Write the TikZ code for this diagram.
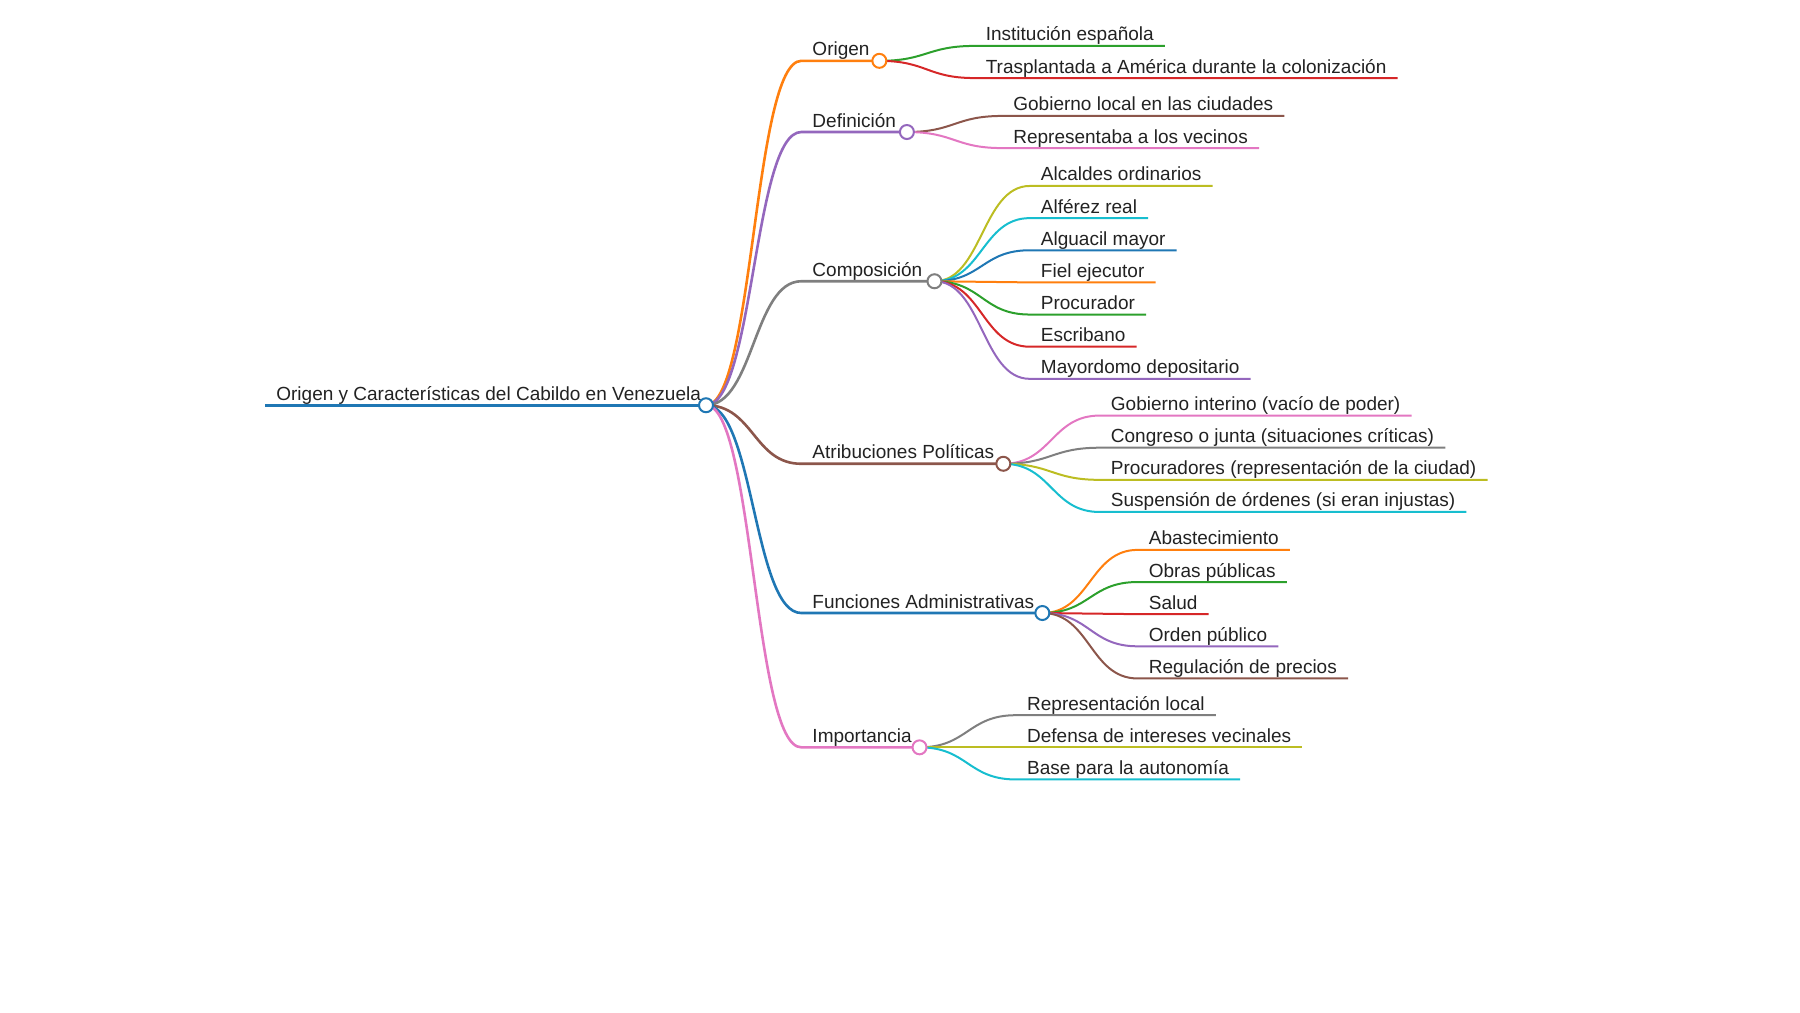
\documentclass[tikz,border=0pt]{standalone}
\usepackage{fontspec}
\setmainfont{Liberation Sans}
\usetikzlibrary{calc}
\definecolor{cBlue}{HTML}{1F77B4}
\definecolor{cOrange}{HTML}{FF7F0E}
\definecolor{cGreen}{HTML}{2CA02C}
\definecolor{cRed}{HTML}{D62728}
\definecolor{cPurple}{HTML}{9467BD}
\definecolor{cBrown}{HTML}{8C564B}
\definecolor{cPink}{HTML}{E377C2}
\definecolor{cGray}{HTML}{7F7F7F}
\definecolor{cOlive}{HTML}{BCBD22}
\definecolor{cCyan}{HTML}{17BECF}
\definecolor{txtcol}{HTML}{222222}
\tikzset{
  lbl/.style={font=\fontsize{19}{22}\selectfont, text=txtcol, inner xsep=11pt, inner ysep=4.8pt, text depth=0pt, anchor=south west},
  dot/.style={circle, draw=#1, fill=white, line width=2pt, minimum size=14pt, inner sep=0pt},
  rootline/.style={line width=3pt, cBlue},
  branchline/.style={line width=2.6pt},
  kidline/.style={line width=2pt},
}
\newcommand\mmlink[4]{%
  \path (#2) -- (#3) coordinate[pos=.5] (lkm);
  \draw[#1] (#2) .. controls (lkm |- #2) and (lkm |- #3) .. (#3) -- (#4);}
\begin{document}
\begin{tikzpicture}[x=1.148pt,y=-1.148pt]
\useasboundingbox (0,0) rectangle (1568,882);
% root
\node[lbl] (rootT) at (231,353) {Origen y Características del Cabildo en Venezuela};
\draw[rootline] (rootT.south west) -- (609,353);
% branches text
\node[lbl] (bO) at (698,53) {Origen};
\node[lbl] (bD) at (698,115) {Definición};
\node[lbl] (bC) at (698,245) {Composición};
\node[lbl] (bA) at (698,404) {Atribuciones Políticas};
\node[lbl] (bF) at (698,534) {Funciones Administrativas};
\node[lbl] (bI) at (698,651) {Importancia};
% children text
\node[lbl] (o1) at (849,40) {Institución española};
\node[lbl] (o2) at (849,68) {Trasplantada a América durante la colonización};
\node[lbl] (d1) at (873,101) {Gobierno local en las ciudades};
\node[lbl] (d2) at (873,129) {Representaba a los vecinos};
\node[lbl] (c1) at (897,162) {Alcaldes ordinarios};
\node[lbl] (c2) at (897,190) {Alférez real};
\node[lbl] (c3) at (897,218) {Alguacil mayor};
\node[lbl] (c4) at (897,246) {Fiel ejecutor};
\node[lbl] (c5) at (897,274) {Procurador};
\node[lbl] (c6) at (897,302) {Escribano};
\node[lbl] (c7) at (897,330) {Mayordomo depositario};
\node[lbl] (a1) at (958,362) {Gobierno interino (vacío de poder)};
\node[lbl] (a2) at (958,390) {Congreso o junta (situaciones críticas)};
\node[lbl] (a3) at (958,418) {Procuradores (representación de la ciudad)};
\node[lbl] (a4) at (958,446) {Suspensión de órdenes (si eran injustas)};
\node[lbl] (f1) at (991,479) {Abastecimiento};
\node[lbl] (f2) at (991,507) {Obras públicas};
\node[lbl] (f3) at (991,535) {Salud};
\node[lbl] (f4) at (991,563) {Orden público};
\node[lbl] (f5) at (991,591) {Regulación de precios};
\node[lbl] (i1) at (885,623) {Representación local};
\node[lbl] (i2) at (885,651) {Defensa de intereses vecinales};
\node[lbl] (i3) at (885,679) {Base para la autonomía};
% circle coordinates
\coordinate (root) at (615,353);
\coordinate (pO) at (766,53);
\coordinate (pD) at (790,115);
\coordinate (pC) at (814,245);
\coordinate (pA) at (874,404);
\coordinate (pF) at (908,534);
\coordinate (pI) at (801,651);
% branch connectors
\mmlink{branchline,cOrange}{root}{bO.south west}{pO}
\mmlink{branchline,cPurple}{root}{bD.south west}{pD}
\mmlink{branchline,cGray}{root}{bC.south west}{pC}
\mmlink{branchline,cBrown}{root}{bA.south west}{pA}
\mmlink{branchline,cBlue}{root}{bF.south west}{pF}
\mmlink{branchline,cPink}{root}{bI.south west}{pI}
% child connectors
\mmlink{kidline,cGreen}{pO}{o1.south west}{o1.south east}
\mmlink{kidline,cRed}{pO}{o2.south west}{o2.south east}
\mmlink{kidline,cBrown}{pD}{d1.south west}{d1.south east}
\mmlink{kidline,cPink}{pD}{d2.south west}{d2.south east}
\mmlink{kidline,cOlive}{pC}{c1.south west}{c1.south east}
\mmlink{kidline,cCyan}{pC}{c2.south west}{c2.south east}
\mmlink{kidline,cBlue}{pC}{c3.south west}{c3.south east}
\mmlink{kidline,cOrange}{pC}{c4.south west}{c4.south east}
\mmlink{kidline,cGreen}{pC}{c5.south west}{c5.south east}
\mmlink{kidline,cRed}{pC}{c6.south west}{c6.south east}
\mmlink{kidline,cPurple}{pC}{c7.south west}{c7.south east}
\mmlink{kidline,cPink}{pA}{a1.south west}{a1.south east}
\mmlink{kidline,cGray}{pA}{a2.south west}{a2.south east}
\mmlink{kidline,cOlive}{pA}{a3.south west}{a3.south east}
\mmlink{kidline,cCyan}{pA}{a4.south west}{a4.south east}
\mmlink{kidline,cOrange}{pF}{f1.south west}{f1.south east}
\mmlink{kidline,cGreen}{pF}{f2.south west}{f2.south east}
\mmlink{kidline,cRed}{pF}{f3.south west}{f3.south east}
\mmlink{kidline,cPurple}{pF}{f4.south west}{f4.south east}
\mmlink{kidline,cBrown}{pF}{f5.south west}{f5.south east}
\mmlink{kidline,cGray}{pI}{i1.south west}{i1.south east}
\mmlink{kidline,cOlive}{pI}{i2.south west}{i2.south east}
\mmlink{kidline,cCyan}{pI}{i3.south west}{i3.south east}
% circles on top
\node[dot=cBlue] (rootC) at (root) {};
\node[dot=cOrange] (cO) at (pO) {};
\node[dot=cPurple] (cD) at (pD) {};
\node[dot=cGray] (cC) at (pC) {};
\node[dot=cBrown] (cA) at (pA) {};
\node[dot=cBlue] (cF) at (pF) {};
\node[dot=cPink] (cI) at (pI) {};
\end{tikzpicture}
\end{document}
